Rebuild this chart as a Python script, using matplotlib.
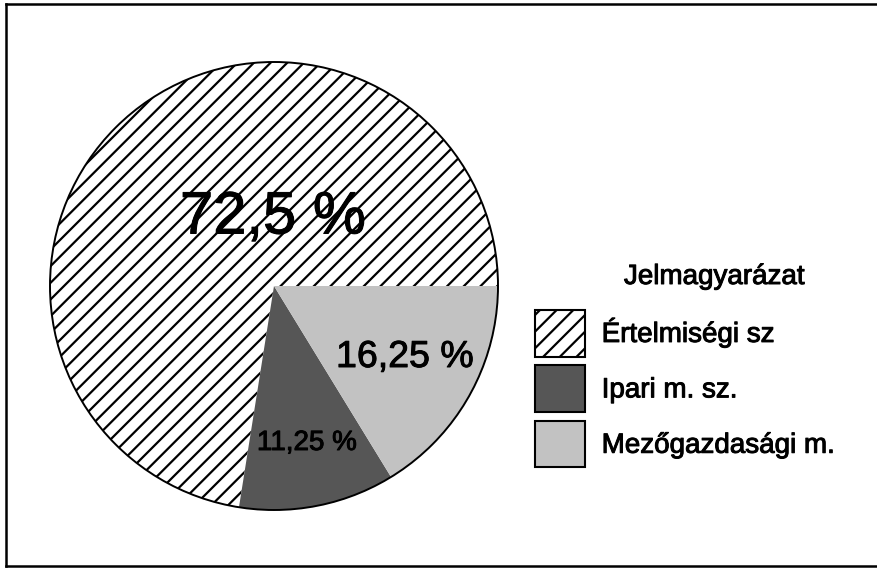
import matplotlib.pyplot as plt
import matplotlib.patheffects as pe
from matplotlib.patches import Patch, Circle
from matplotlib.lines import Line2D

plt.rcParams['font.family'] = ['Liberation Sans', 'DejaVu Sans']
plt.rcParams['hatch.linewidth'] = 1.6

# adatok
categories = ['Értelmiségi sz', 'Ipari m. sz.', 'Mezőgazdasági m.']
shares = [72.5, 11.25, 16.25]
value_labels = ['72,5 %', '11,25 %', '16,25 %']
legend_title = 'Jelmagyarázat'

# stílus
faces = ['white', '#565656', '#c2c2c2']
hatches = ['//', '', '']
label_pos = [(273, 218), (307, 443), (405, 357)]   # pixel, felülről mérve
label_size = [43, 20, 27]
ink = [pe.withStroke(linewidth=0.7, foreground='black')]

W, H = 878, 569
fig = plt.figure(figsize=(W / 100, H / 100), dpi=100)
ax = fig.add_axes([0, 0, 1, 1])

cx, cy, r = 274, H - 286, 224
wedges, _ = ax.pie(shares, colors=faces, startangle=0, counterclock=True,
                   center=(cx, cy), radius=r, frame=True,
                   wedgeprops=dict(linewidth=0, edgecolor='black'))
ax.set_xlim(0, W)
ax.set_ylim(0, H)
ax.set_aspect('equal')
ax.axis('off')
for w, h in zip(wedges, hatches):
    w.set_hatch(h)
ax.add_patch(Circle((cx, cy), r, fill=False, edgecolor='black', linewidth=1.4))

for txt, (x, y), fs in zip(value_labels, label_pos, label_size):
    ax.text(x, H - y, txt, fontsize=fs, ha='center', va='center',
            color='black', path_effects=ink)

# keret (jobb oldal nincs)
frame_kw = dict(color='black', linewidth=1.8)
ax.add_line(Line2D([6, W], [H - 4, H - 4], **frame_kw))
ax.add_line(Line2D([6, 6], [H - 4, H - 566], **frame_kw))
ax.add_line(Line2D([6, W], [H - 566, H - 566], **frame_kw))

# jelmagyarázat
ax.text(714, H - 277, legend_title, fontsize=20, ha='center', va='center',
        path_effects=ink)
handles = [Patch(facecolor=f, hatch=h, edgecolor='black', linewidth=1.5)
           for f, h in zip(faces, hatches)]
leg = ax.legend(handles, categories, frameon=False,
                loc='upper left', bbox_to_anchor=(535, H - 310),
                bbox_transform=ax.transData, fontsize=20,
                handlelength=1.8, handleheight=2.2, labelspacing=0.32,
                handletextpad=0.6, borderpad=0, borderaxespad=0)
for t in leg.get_texts():
    t.set_path_effects(ink)

fig.savefig('out.png', dpi=100)
